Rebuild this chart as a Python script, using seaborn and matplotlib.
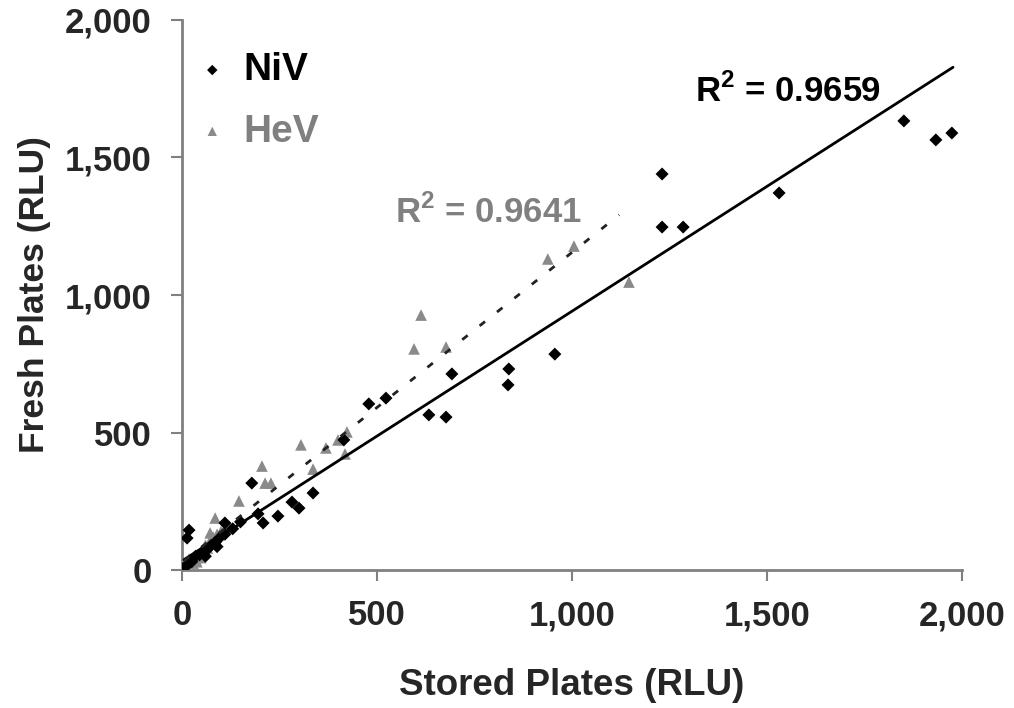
import numpy as np
import pandas as pd
import matplotlib
matplotlib.use("Agg")
import matplotlib.pyplot as plt
import seaborn as sns

# ---- data ----
niv_x = [1851, 1933, 1974, 1531, 1231, 1231, 1285, 956, 838, 836, 692, 677, 633,
         523, 479, 415, 336, 300, 282, 246, 208, 195, 179, 110, 18, 13,
         5, 15, 25, 35, 45, 55, 65, 75, 85, 95, 110, 130, 150, 60, 90]
niv_y = [1633, 1564, 1589, 1371, 1440, 1247, 1247, 785, 731, 673, 713, 556, 564,
         625, 604, 473, 280, 225, 247, 196, 171, 204, 316, 171, 145, 116,
         8, 20, 30, 50, 55, 65, 75, 90, 100, 115, 130, 150, 175, 50, 85]

hev_x = [1146, 938, 1005, 613, 595, 677, 305, 205, 213, 228, 146, 336, 369, 400,
         423, 418, 85, 72,
         5, 10, 15, 20, 25, 30, 35, 40, 45, 50, 55, 60, 65, 70, 75, 80, 90, 100,
         110, 120, 8, 12, 18, 28, 38, 48]
hev_y = [1047, 1131, 1178, 927, 804, 811, 455, 378, 316, 316, 251, 367, 444, 473,
         502, 422, 189, 135,
         10, 20, 15, 30, 35, 45, 40, 55, 60, 70, 75, 90, 80, 100, 110, 120, 130, 140,
         150, 160, 5, 25, 40, 25, 30, 45]

# linear trend lines (slope, intercept, x-extent) and R^2 as printed on the chart
niv_fit = (0.908, 33)
hev_fit = (1.128, 27)
niv_fit_xmax = 1977
hev_fit_xmax = 1121
niv_r2 = "0.9659"
hev_r2 = "0.9641"

series_names = ["NiV", "HeV"]
x_ticks = [0, 500, 1000, 1500, 2000]
y_ticks = [0, 500, 1000, 1500, 2000]
tick_labels = ["0", "500", "1,000", "1,500", "2,000"]

# ---- styling ----
sns.set_theme(style="ticks")
plt.rcParams["font.family"] = ["Liberation Sans", "DejaVu Sans"]
plt.rcParams["font.weight"] = "bold"
plt.rcParams["mathtext.fontset"] = "custom"
plt.rcParams["mathtext.rm"] = "Liberation Sans:bold"
plt.rcParams["mathtext.bf"] = "Liberation Sans:bold"

GREY = "#808080"
TRI_GREY = "#8a8a8a"

fig = plt.figure(figsize=(10.14, 7.08), dpi=100)
ax = fig.add_axes([182 / 1014, 1 - 570 / 708, (962 - 182) / 1014, (570 - 20) / 708])

df = pd.concat([
    pd.DataFrame({"x": niv_x, "y": niv_y, "virus": series_names[0]}),
    pd.DataFrame({"x": hev_x, "y": hev_y, "virus": series_names[1]}),
], ignore_index=True)

sns.scatterplot(data=df[df.virus == "HeV"], x="x", y="y", marker="^", s=70,
                color=TRI_GREY, edgecolor="none", ax=ax, label="HeV", zorder=3)
sns.scatterplot(data=df[df.virus == "NiV"], x="x", y="y", marker="D", s=44,
                color="black", edgecolor="none", ax=ax, label="NiV", zorder=4)

# trend lines
nx = np.array([min(niv_x), niv_fit_xmax], dtype=float)
ax.plot(nx, niv_fit[0] * nx + niv_fit[1], color="black", lw=2.0, zorder=5)
hx = np.array([min(hev_x), hev_fit_xmax], dtype=float)
ax.plot(hx, hev_fit[0] * hx + hev_fit[1], color="#222222", lw=2.0,
        linestyle=(0, (2.5, 5.5)), zorder=5)

ax.text(1315, 1740, r"R$^{\mathbf{2}}$ = " + niv_r2, fontsize=25, fontweight="bold",
        color="black", va="center", ha="left")
ax.text(545, 1300, r"R$^{\mathbf{2}}$ = " + hev_r2, fontsize=25, fontweight="bold",
        color=GREY, va="center", ha="left")

ax.set_xlim(0, 2000)
ax.set_ylim(0, 2000)
ax.set_xticks(x_ticks)
ax.set_yticks(y_ticks)
ax.set_xticklabels(tick_labels, fontsize=25, fontweight="bold")
ax.set_yticklabels(tick_labels, fontsize=25, fontweight="bold")
ax.tick_params(axis="both", direction="out", length=8, width=1.5, color=GREY)
ax.tick_params(axis="x", pad=13)
ax.tick_params(axis="y", pad=14)

for side in ["top", "right"]:
    ax.spines[side].set_visible(False)
for side in ["left", "bottom"]:
    ax.spines[side].set_color(GREY)
    ax.spines[side].set_linewidth(2)

ax.set_xlabel("Stored Plates (RLU)", fontsize=26.5, fontweight="bold", labelpad=26)
ax.set_ylabel("Fresh Plates (RLU)", fontsize=25.5, fontweight="bold", labelpad=10)

handles, labels = ax.get_legend_handles_labels()
order = [labels.index("NiV"), labels.index("HeV")]
leg = ax.legend([handles[i] for i in order], [labels[i] for i in order],
                loc="upper left", bbox_to_anchor=(-0.026, 1.005), frameon=False,
                fontsize=28, handlelength=0.8, handletextpad=0.4, labelspacing=0.65,
                markerscale=0.8, labelcolor=["black", GREY])
for t in leg.get_texts():
    t.set_fontweight("bold")

fig.savefig("out.png", dpi=100)
